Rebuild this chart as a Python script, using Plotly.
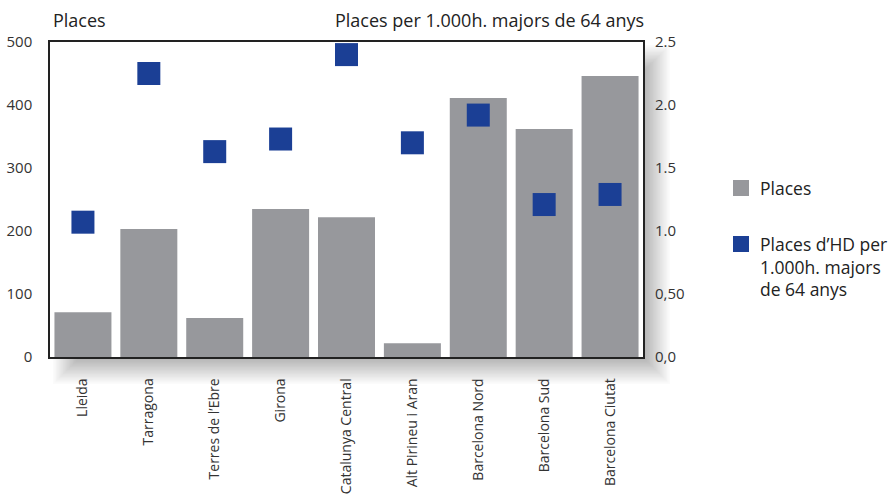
import plotly.graph_objects as go

categories = ["Lleida", "Tarragona", "Terres de l\u2019Ebre", "Girona", "Catalunya Central",
              "Alt Pirineu i Aran", "Barcelona Nord", "Barcelona Sud", "Barcelona Ciutat"]
places = [71, 203, 62, 235, 222, 22, 411, 362, 446]
places_per_1000 = [1.07, 2.25, 1.63, 1.73, 2.40, 1.70, 1.92, 1.21, 1.29]
left_ticks = [0, 100, 200, 300, 400, 500]
right_tickvals = [0, 0.5, 1.0, 1.5, 2.0, 2.5]
right_ticktext = ["0,0", "0,50", "1.0", "1.5", "2.0", "2.5"]
legend_lines = ["Places d\u2019HD per", "1.000h. majors", "de 64 anys"]

W, H = 895, 495
L, R, T, B = 50, 643, 42, 357
PW, PH = R - L, B - T
FONT = "Open Sans, Noto Sans, sans-serif"
TXT = "#222222"
BAR = "#97989c"
BLUE = "#1b3f95"


def px_x(p):
    return (p - L) / PW


def px_y(p):
    return (B - p) / PH


fig = go.Figure()
fig.add_trace(go.Bar(x=categories, y=places, marker_color=BAR, marker_line_width=0,
                     name="Places", showlegend=False))
fig.add_trace(go.Scatter(x=categories, y=places_per_1000, yaxis="y2", mode="markers",
                         marker=dict(symbol="square", size=23, color=BLUE, line_width=0),
                         name="Places d\u2019HD per 1.000h. majors de 64 anys", showlegend=False))

shapes = []
# soft drop shadow (right and bottom)
dx, dy = 15, 15
N = 18
for k in range(N):
    e = -12 + k * (24 / (N - 1))
    shapes.append(dict(type="rect", xref="paper", yref="paper", layer="below",
                       x0=px_x(L + dx - e), x1=px_x(R + dx + e),
                       y0=px_y(B + dy + e), y1=px_y(T + dy - e),
                       line_width=0, fillcolor="rgba(0,0,0,0.015)"))
# white plot area on top of shadow
shapes.append(dict(type="rect", xref="paper", yref="paper", layer="below",
                   x0=0, x1=1, y0=0, y1=1, line_width=0, fillcolor="white"))
# legend squares
shapes.append(dict(type="rect", xref="paper", yref="paper",
                   x0=px_x(733), x1=px_x(749), y0=px_y(196), y1=px_y(180),
                   line_width=0, fillcolor=BAR))
shapes.append(dict(type="rect", xref="paper", yref="paper",
                   x0=px_x(733), x1=px_x(749), y0=px_y(252), y1=px_y(236),
                   line_width=0, fillcolor=BLUE))

annotations = [
    dict(text="Places", xref="paper", yref="paper", x=px_x(51), y=px_y(20),
         xanchor="left", yanchor="middle", showarrow=False,
         font=dict(size=18, color=TXT, family=FONT)),
    dict(text="Places per 1.000h. majors de 64 anys", xref="paper", yref="paper",
         x=px_x(646), y=px_y(20), xanchor="right", yanchor="middle", showarrow=False,
         font=dict(size=18, color=TXT, family=FONT)),
    dict(text="Places", xref="paper", yref="paper", x=px_x(758), y=px_y(188),
         xanchor="left", yanchor="middle", showarrow=False, align="left",
         font=dict(size=17.5, color=TXT, family=FONT)),
]
for i, line in enumerate(legend_lines):
    annotations.append(dict(text=line, xref="paper", yref="paper", x=px_x(758),
                            y=px_y(244 + i * 22.5), xanchor="left", yanchor="middle",
                            showarrow=False, font=dict(size=17.5, color=TXT, family=FONT)))

fig.update_layout(
    width=W, height=H,
    margin=dict(l=L, r=W - R, t=T, b=H - B, pad=0),
    paper_bgcolor="white", plot_bgcolor="rgba(0,0,0,0)",
    bargap=0.135,
    showlegend=False,
    font=dict(family=FONT, color="#333333", size=13),
    shapes=shapes,
    annotations=annotations,
    xaxis=dict(range=[-0.5, 8.5], tickangle=-90, showgrid=False, showline=True,
               linecolor="#222", linewidth=1.5, mirror=True, ticks="", ticklabelstandoff=14,
               automargin=False,
               tickfont=dict(size=14, color="#333333", family=FONT), fixedrange=True),
    yaxis=dict(range=[0, 500], tickvals=left_ticks, showgrid=False, zeroline=False,
               showline=True, linecolor="#222", linewidth=1.5, mirror=True, ticks="",
               automargin=False,
               ticklabelstandoff=13, tickfont=dict(size=15, color="#333333", family=FONT)),
    yaxis2=dict(range=[0, 2.5], overlaying="y", side="right", tickvals=right_tickvals,
                ticktext=right_ticktext, showgrid=False, zeroline=False, showline=False,
                ticks="", ticklabelstandoff=11, automargin=False,
                tickfont=dict(size=15, color="#333333", family=FONT)),
)

fig.write_html("out.html")
